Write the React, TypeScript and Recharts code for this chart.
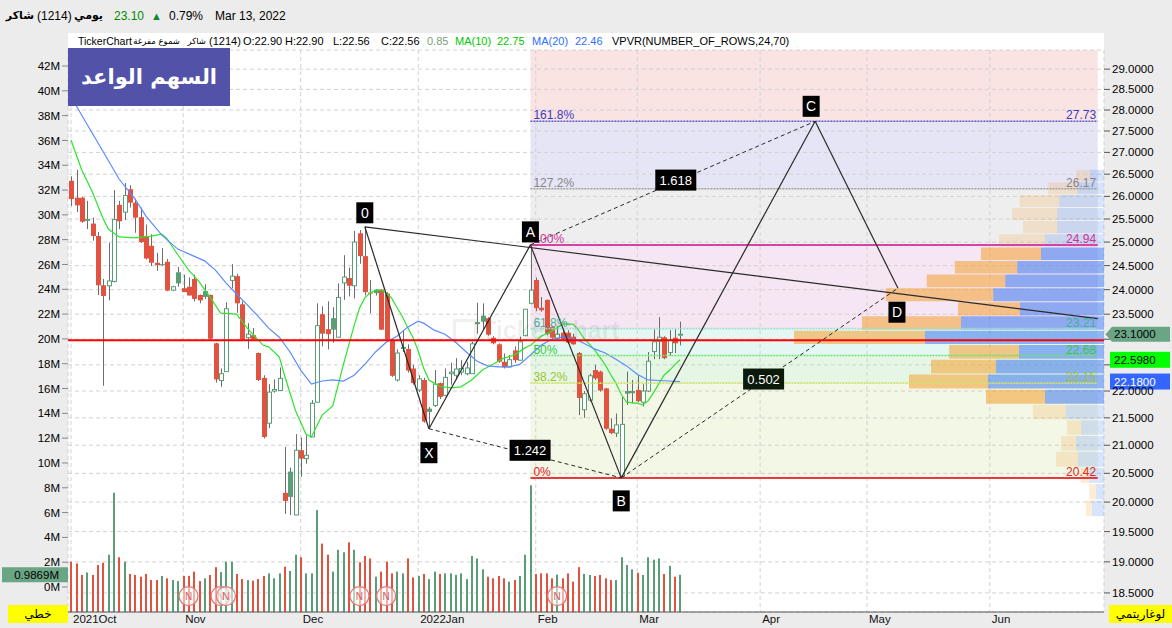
import React from "react";
import {
  ComposedChart,
  Bar,
  Line,
  XAxis,
  YAxis,
  CartesianGrid,
  ReferenceArea,
  ReferenceLine,
  ReferenceDot,
} from "recharts";

// شاكر (1214) daily candles, 3 Oct 2021 .. 13 Mar 2022 (115 sessions)
const opens = [
  26.35, 25.97, 25.97, 25.5, 25.4, 25.13, 24.09, 24.08, 24.17, 25.81,
  25.65, 26.16, 25.86, 25.54, 25.13, 24.92, 24.56, 24.53, 24.58, 23.99,
  24.36, 24.03, 24.06, 24.22, 23.89, 23.97, 23.89, 22.92, 22.2, 22.37,
  24.19, 24.28, 23.7, 23.03, 23.08, 22.73, 22.25, 21.4, 22.0, 22.01,
  20.16, 20.53, 19.78, 20.91, 20.76, 21.15, 21.79, 23.5, 23.2, 23.42,
  23.04, 24.14, 24.24, 24.08, 25.19, 24.7, 23.94, 24.0, 24.0, 23.92,
  22.99, 22.21, 22.82, 22.81, 22.43, 22.02, 22.21, 21.67, 21.73, 22.15,
  21.92, 22.33, 22.3, 22.36, 22.33, 22.33, 23.31, 23.47, 23.42, 23.03,
  22.9, 22.56, 22.46, 22.78, 22.59, 23.07, 23.72, 24.2, 23.63, 23.79,
  23.24, 23.02, 23.13, 23.13, 23.05, 22.73, 21.65, 21.83, 22.4, 22.37,
  22.05, 21.3, 21.22, 20.45, 22.0, 22.0, 22.02, 21.79, 22.0, 22.76,
  22.96, 23.04, 22.74, 23.03, 23.08,
];
const highs = [
  26.45, 26.6, 25.99, 25.9, 25.53, 25.22, 24.22, 24.99, 26.14, 25.9,
  26.3, 26.25, 25.95, 25.75, 25.38, 25.17, 24.77, 24.87, 24.64, 24.08,
  24.47, 24.31, 24.25, 24.31, 23.9, 24.11, 23.9, 22.93, 22.43, 23.74,
  24.53, 24.33, 23.76, 23.32, 23.22, 22.74, 22.3, 22.13, 22.22, 22.45,
  20.97, 20.6, 21.2, 21.14, 21.18, 21.83, 23.72, 23.66, 23.76, 23.64,
  24.13, 24.72, 24.46, 25.24, 25.26, 25.33, 24.2, 24.01, 24.01, 23.95,
  23.0, 22.8, 23.18, 22.9, 22.5, 22.3, 22.25, 21.7, 22.4, 22.16,
  22.43, 22.54, 22.63, 22.59, 22.56, 22.95, 23.73, 23.72, 23.44, 23.06,
  22.92, 22.72, 22.69, 22.86, 23.05, 23.6, 24.94, 24.25, 23.85, 23.8,
  23.26, 23.26, 23.2, 23.18, 23.11, 22.75, 22.0, 22.33, 22.5, 22.39,
  22.06, 21.49, 21.58, 21.9, 22.37, 22.21, 22.3, 22.13, 22.75, 23.2,
  23.44, 23.06, 23.18, 23.2, 23.35,
];
const lows = [
  25.79, 25.65, 25.42, 25.28, 25.03, 23.89, 22.1, 23.78, 24.15, 25.28,
  25.48, 25.75, 25.2, 24.98, 24.63, 24.49, 24.39, 24.49, 23.97, 23.97,
  24.06, 23.95, 23.88, 23.76, 23.72, 23.81, 22.98, 22.16, 22.08, 22.37,
  24.03, 23.53, 22.98, 22.81, 22.99, 22.19, 21.12, 21.31, 21.97, 22.0,
  19.8, 19.78, 19.78, 20.44, 20.67, 21.15, 21.79, 22.86, 22.8, 22.93,
  23.04, 23.79, 23.86, 23.82, 24.54, 23.88, 23.52, 23.88, 23.18, 22.98,
  22.27, 22.18, 22.75, 22.35, 22.12, 21.98, 21.41, 21.3, 21.7, 21.85,
  21.9, 22.12, 22.21, 22.3, 22.3, 22.33, 23.11, 23.18, 23.07, 22.9,
  22.54, 22.43, 22.45, 22.54, 22.59, 23.06, 23.7, 23.56, 23.55, 23.08,
  23.01, 22.98, 22.96, 22.91, 22.89, 21.55, 21.5, 21.8, 22.21, 21.99,
  21.28, 21.2, 21.15, 20.42, 21.74, 21.77, 21.79, 21.71, 21.98, 22.61,
  22.61, 22.61, 22.68, 22.73, 22.88,
];
const closes = [
  25.94, 25.8, 25.44, 25.46, 25.13, 24.09, 23.87, 24.18, 25.49, 25.45,
  26.02, 25.86, 25.53, 25.0, 24.65, 24.56, 24.51, 24.52, 23.98, 24.06,
  24.13, 23.95, 23.88, 23.81, 23.78, 23.85, 23.01, 22.22, 22.33, 23.61,
  24.28, 23.72, 23.0, 23.1, 23.0, 22.21, 21.15, 21.98, 22.03, 22.24,
  20.02, 20.09, 20.91, 20.76, 20.82, 21.77, 23.27, 23.11, 23.1, 23.19,
  23.84, 24.26, 24.08, 25.0, 24.7, 23.95, 23.92, 23.93, 23.19, 23.0,
  22.29, 22.73, 22.84, 22.39, 22.15, 22.23, 21.43, 21.61, 22.13, 21.89,
  22.26, 22.36, 22.42, 22.43, 22.44, 22.91, 23.33, 23.35, 23.09, 22.92,
  22.56, 22.45, 22.6, 22.59, 22.95, 23.6, 23.99, 23.62, 23.58, 23.11,
  23.03, 23.1, 23.0, 22.93, 22.9, 21.87, 21.95, 22.29, 22.24, 22.01,
  21.3, 21.22, 21.37, 21.38, 21.95, 21.96, 21.81, 22.0, 22.57, 22.95,
  23.04, 22.63, 22.98, 22.92, 23.1,
];
// volume, millions of shares
const volumes = [
  2.04, 1.9, 0.97, 1.17, 0.97, 1.77, 1.96, 2.6, 7.6, 2.4,
  2.04, 1.05, 0.97, 0.83, 1.05, 0.56, 0.56, 0.89, 0.7, 0.56,
  0.48, 0.89, 0.9, 1.24, 0.48, 0.7, 0.97, 1.6, 1.2, 2.04,
  2.04, 1.05, 0.64, 0.56, 0.51, 0.64, 0.89, 1.1, 0.7, 1.1,
  1.64, 1.29, 2.6, 2.4, 1.1, 1.1, 6.2, 3.5, 2.6, 1.24,
  3.0, 2.8, 3.6, 3.0, 2.0, 2.5, 2.3, 0.83, 1.24, 2.04,
  1.1, 1.24, 1.1, 2.3, 0.77, 0.89, 1.05, 0.64, 1.24, 1.05,
  1.1, 1.1, 0.97, 1.1, 0.64, 2.5, 2.3, 1.42, 0.83, 0.7,
  0.89, 0.7, 0.43, 0.56, 0.89, 2.6, 8.2, 1.05, 1.1, 1.1,
  0.7, 1.0, 0.7, 1.1, 0.43, 1.6, 1.05, 0.97, 0.89, 0.97,
  0.7, 0.56, 0.56, 2.4, 1.77, 1.42, 1.15, 0.97, 2.4, 2.2,
  2.3, 1.05, 1.7, 0.83, 0.9869,
];

// moving averages: [session index, price]
const ma10Points: [number, number][] = [
  [0, 27.29], [2, 26.6], [4, 26.1], [6, 25.51], [7, 25.28], [9, 25.11], [12, 25.09],
  [15, 25.13], [17, 25.17], [18, 25.07], [20, 24.73], [22, 24.41], [24, 24.16],
  [26, 23.85], [28, 23.52], [31, 23.5], [33, 23.22], [34, 23.1], [36, 22.88],
  [37, 22.85], [39, 22.65], [40, 22.29], [42, 21.64], [44, 21.2], [45, 21.15],
  [47, 21.55], [49, 21.72], [51, 22.51], [52, 22.89], [53, 23.27], [54, 23.62],
  [55, 23.83], [56, 23.93], [57, 23.99], [58, 23.99], [59, 23.93], [60, 23.83],
  [61, 23.64], [62, 23.46], [63, 23.24], [64, 23.04], [65, 22.77], [66, 22.44],
  [67, 22.21], [68, 22.15], [69, 22.09], [71, 22.06], [73, 22.08], [75, 22.21],
  [77, 22.4], [79, 22.51], [81, 22.63], [83, 22.69], [85, 22.83], [86, 22.88],
  [88, 23.06], [90, 23.16], [92, 23.3], [94, 23.3], [95, 23.18], [96, 23.02],
  [98, 22.79], [99, 22.65], [100, 22.5], [101, 22.32], [102, 22.15], [103, 21.94],
  [104, 21.79], [106, 21.77], [107, 21.74], [108, 21.81], [109, 21.96], [110, 22.13],
  [111, 22.3], [112, 22.39], [113, 22.5], [114, 22.598],
];
const ma20Points: [number, number][] = [
  [0, 28.32], [3, 27.66], [6, 27.02], [9, 26.39], [12, 25.94], [14, 25.57], [17, 25.15],
  [20, 24.85], [23, 24.7], [25, 24.6], [27, 24.41], [29, 24.14], [31, 23.91],
  [33, 23.69], [35, 23.46], [37, 23.22], [39, 23.04], [41, 22.75], [43, 22.4],
  [45, 22.13], [47, 22.19], [49, 22.21], [51, 22.19], [53, 22.3], [55, 22.51],
  [57, 22.75], [59, 22.94], [61, 23.06], [63, 23.24], [65, 23.36], [66, 23.32],
  [68, 23.18], [70, 23.1], [72, 22.94], [74, 22.75], [76, 22.57], [78, 22.48],
  [80, 22.46], [82, 22.46], [84, 22.51], [86, 22.69], [88, 22.88], [90, 23.0],
  [92, 23.04], [94, 23.02], [96, 22.92], [98, 22.81], [100, 22.73], [102, 22.61],
  [104, 22.48], [106, 22.32], [108, 22.21], [110, 22.2], [112, 22.19], [114, 22.18],
];

// x axis: first session of each month (incl. empty future months)
const monthTicks = [0, 21, 43, 65, 87, 106, 129, 149, 172];
const monthLabels = ["2021Oct", "Nov", "Dec", "2022Jan", "Feb", "Mar", "Apr", "May", "Jun"];
const priceTicks = [
  18.5, 19, 19.5, 20, 20.5, 21, 21.5, 22, 22.5, 23, 23.5, 24, 24.5, 25, 25.5, 26, 26.5, 27,
  27.5, 28, 28.5, 29,
];
// tick labels that sit under the price badges
const coveredTicks = [22.5, 23];
const volTicks = [0, 2, 4, 6, 8, 10, 12, 14, 16, 18, 20, 22, 24, 26, 28, 30, 32, 34, 36, 38, 40, 42];

// fibonacci retracement A -> B
const fibNames = ["0%", "38.2%", "50%", "61.8%", "100%", "127.2%", "161.8%"];
const fibPrices = [20.42, 22.15, 22.68, 23.21, 24.94, 26.17, 27.73];

// harmonic pattern points
const patternNames = ["0", "X", "A", "B", "C", "D"];
const patternIdx = [55, 67, 86, 103, 139.3, 154.8];
const patternPrices = [25.33, 21.3, 24.94, 20.42, 27.73, 24.03];
const ratioNames = ["1.242", "1.618", "0.502"];
const trendEnd = { idx: 192.2, price: 23.41 };

// volume profile (24 rows, bottom to top), 100k shares
const vpBuy = [3, 3.4, 4.2, 11, 7.5, 7, 16.4, 29.5, 39.5, 32.5, 34.9, 65.5, 49.5, 31, 53.7, 39.2, 31.2, 30, 23, 17, 22.5, 19.7, 14.7, 7];
const vpSell = [6, 4, 7.4, 13, 14, 11.5, 19.2, 29.5, 58, 54, 42.5, 89.5, 71.5, 42, 55.4, 49.4, 43.4, 31.5, 29.5, 23.4, 23.4, 22.4, 13.2, 7];
const VP_LOW = 19.76;
const VP_HIGH = 26.62;
const VA_ROWS = [7, 17];

const newsIdx = [22, 28, 29, 54, 59, 91];
const hLinePrice = 22.98;

// ---- layout / style ----
const X_DOMAIN: [number, number] = [-0.56, 193.37];
const PRICE_DOMAIN: [number, number] = [18.2, 29.48];
const VOL_DOMAIN: [number, number] = [-2.015, 43.29];
const VP_UNITS_PER_SLOT = 2.671;
const FONT = '"Liberation Sans", "DejaVu Sans", Arial, sans-serif';
const AR_FONT = '"DejaVu Sans", sans-serif';
const RED = "#e2533f";
const GREEN = "#5a9e78";
const WICK = "#6c6c6c";

const fibLineColors = ["#e83a3a", "#d2e070", "#6ee06e", "#9edfd0", "#d444a4", "#a0a0a0", "#5a5ac8"];
const fibTextColors = ["#e02828", "#9cc430", "#38c838", "#3cb48e", "#d0309a", "#858585", "#3a3ac4"];
const fibDash = [undefined, "2 1", "2 1", "2 1", undefined, "2 1", "2 1"];
const fibZoneColors = ["#f3f7e5", "#e6f6e4", "#e5f7f2", "#f6e5f3", "#eeeeee", "#e5e5f6", "#f9e3e3"];
const tagOffsets = [[0, -14], [0, 24], [0, -13], [0, 23], [-4, -15], [-1, 24]];
const ratioOffsets = [[5, -3], [3, -3], [4, -4]];

const ma10Map = new Map(ma10Points);
const ma20Map = new Map(ma20Points);
const data = opens.map((open, i) => ({
  i,
  open,
  high: highs[i],
  low: lows[i],
  close: closes[i],
  vol: volumes[i],
  up: i === 0 ? closes[i] >= open : closes[i] >= closes[i - 1],
  hollow: closes[i] >= open,
  ma10: ma10Map.get(i) ?? null,
  ma20: ma20Map.get(i) ?? null,
}));

const Candle = (p: any) => {
  const { x, y, width, height, payload } = p;
  if (!payload || height == null) return null;
  const top = Math.min(y, y + height);
  const h = Math.abs(height);
  const lh = Math.log(payload.high);
  const ll = Math.log(payload.low);
  const toY = (v: number) => (lh === ll ? top : top + (h * (lh - Math.log(v))) / (lh - ll));
  const cx = Math.round(x + width / 2) + 0.5;
  const yo = toY(payload.open);
  const yc = toY(payload.close);
  const bt = Math.min(yo, yc);
  const bh = Math.max(1, Math.abs(yc - yo));
  const color = payload.up ? GREEN : RED;
  return (
    <g>
      <line x1={cx} x2={cx} y1={top} y2={top + h} stroke={WICK} strokeWidth={1} />
      {payload.hollow ? (
        <rect x={cx - 2} y={bt} width={4} height={bh} fill="#fff" stroke={color} strokeWidth={1} />
      ) : (
        <rect x={cx - 2.5} y={bt} width={5} height={bh} fill={color} />
      )}
    </g>
  );
};

const VolBar = (p: any) => {
  const { x, y, width, height, payload } = p;
  if (!payload) return null;
  const cx = Math.round(x + width / 2);
  return <rect x={cx - 1} y={Math.min(y, y + height)} width={2} height={Math.abs(height)} fill={payload.up ? GREEN : RED} />;
};

const MonthTick = (p: any) => {
  const k = monthTicks.indexOf(p.payload.value);
  return (
    <text x={p.x + 2} y={p.y + 9} fontSize={11.5} fontFamily={FONT} fill="#111" textAnchor="start">
      {monthLabels[k]}
    </text>
  );
};

const tag = (text: string, dx: number, dy: number, w: number, fill: string, fs: number) => (p: any) => (
  <g>
    <rect x={p.cx + dx - w / 2} y={p.cy + dy - 10.5} width={w} height={21} fill={fill} />
    <text x={p.cx + dx} y={p.cy + dy + fs * 0.36} textAnchor="middle" fill="#fff" fontSize={fs} fontFamily={FONT}>
      {text}
    </text>
  </g>
);

const fibText = (text: string, color: string, anchor: "start" | "end") => (p: any) => (
  <text x={anchor === "start" ? p.cx + 3 : p.cx} y={p.cy - 2} textAnchor={anchor} fill={color} fontSize={12} fontFamily={FONT}>
    {text}
  </text>
);

const priceBadge = (text: string, fill: string, color: string, arrow: boolean) => (p: any) => (
  <g>
    {arrow ? (
      <polygon
        points={`${p.cx + 1.5},${p.cy} ${p.cx + 8},${p.cy - 7.5} ${p.cx + 66},${p.cy - 7.5} ${p.cx + 66},${p.cy + 7.5} ${p.cx + 8},${p.cy + 7.5}`}
        fill={fill}
      />
    ) : (
      <rect x={p.cx + 6} y={p.cy - 8} width={60} height={16} fill={fill} />
    )}
    <text x={p.cx + 10} y={p.cy + 4} fill={color} fontSize={11.5} fontFamily={FONT}>
      {text}
    </text>
  </g>
);

const volBadge = (p: any) => (
  <g>
    <rect x={p.cx - 66} y={p.cy - 7.5} width={66} height={15} fill="#6aa585" />
    <text x={p.cx - 9} y={p.cy + 4} textAnchor="end" fill="#000" fontSize={11.5} fontFamily={FONT}>
      {volumes[volumes.length - 1].toFixed(4)}M
    </text>
  </g>
);

const newsMark = (p: any) => (
  <g>
    <circle cx={p.cx} cy={p.cy} r={9.5} fill="rgba(255,255,255,0.55)" stroke="#e27a7a" strokeWidth={1.3} />
    <text x={p.cx} y={p.cy + 3.5} textAnchor="middle" fontSize={10} fill="#d25a5a" fontFamily={FONT}>
      N
    </text>
  </g>
);

const isArabic = (t: string) => /[\u0600-\u06ff]/.test(t);

// header pieces: [left or right edge, text, colour, bold, anchored on right edge]
const headerItems: [number, string, string, boolean, boolean][] = [
  [34, "شاكر", "#000", true, true],
  [37, "(1214)", "#000", false, false],
  [103, "يومي", "#000", true, true],
  [114, "23.10", "#008a00", false, false],
  [169, "0.79%", "#000", false, false],
  [215, "Mar 13, 2022", "#000", false, false],
];
// info line pieces: [left or right edge, text, colour, anchored on right edge]
const infoItems: [number, string, string, boolean][] = [
  [78, "TickerChart", "#000", false],
  [180, "شموع مفرغة", "#000", true],
  [206, "شاكر", "#000", true],
  [209, "(1214)", "#000", false],
  [243, "O:22.90", "#000", false],
  [285, "H:22.90", "#000", false],
  [333, "L:22.56", "#000", false],
  [381, "C:22.56", "#000", false],
  [427, "0.85", "#7a9e7a", false],
  [455, "MA(10)", "#00c800", false],
  [497, "22.75", "#00c800", false],
  [532, "MA(20)", "#2f6fff", false],
  [575, "22.46", "#2f6fff", false],
  [612, "VPVR(NUMBER_OF_ROWS,24,70)", "#000", false],
];

const App = () => {
  const fibX1 = patternIdx[2];
  const fibX2 = trendEnd.idx;
  const fibTop = [...fibPrices.slice(1), PRICE_DOMAIN[1]];
  const vpStep = (VP_HIGH - VP_LOW) / vpBuy.length;
  const pt = (k: number) => ({ x: patternIdx[k], y: patternPrices[k] });
  const solidLegs = [[0, 1], [1, 2], [2, 3], [3, 4], [4, 5]];
  const dashedLegs = [[1, 3], [2, 4], [3, 5]];
  const lastClose = closes[closes.length - 1];
  const lastMa10 = ma10Points[ma10Points.length - 1][1];
  const lastMa20 = ma20Points[ma20Points.length - 1][1];

  return (
    <div style={{ position: "fixed", left: 0, top: 0, width: 1172, height: 628, background: "#ececec", overflow: "hidden", fontFamily: FONT }}>
      <div style={{ position: "absolute", left: 68, top: 33, width: 1036, height: 579, background: "#fff" }} />
      <div style={{ position: "absolute", left: 0, top: 0 }}>
        <ComposedChart width={1172} height={628} data={data} margin={{ top: 50, right: 0, bottom: 0, left: 0 }}>
          <XAxis
            dataKey="i"
            type="number"
            domain={X_DOMAIN}
            allowDataOverflow
            ticks={monthTicks}
            interval={0}
            height={16}
            tickSize={0}
            axisLine={{ stroke: "#555" }}
            tick={<MonthTick />}
          />
          <XAxis xAxisId="vx" dataKey="i" type="number" domain={X_DOMAIN} allowDataOverflow hide />
          <YAxis
            orientation="right"
            scale="log"
            domain={PRICE_DOMAIN}
            allowDataOverflow
            ticks={priceTicks}
            interval={0}
            width={68}
            axisLine={false}
            tickSize={6}
            tickLine={{ stroke: "#555" }}
            tick={{ fill: "#000", fontSize: 11.5, fontFamily: FONT }}
            tickFormatter={(v: number) => (coveredTicks.includes(v) ? "" : v.toFixed(4))}
          />
          <YAxis
            yAxisId="vol"
            orientation="left"
            domain={VOL_DOMAIN}
            allowDataOverflow
            ticks={volTicks}
            interval={0}
            width={68}
            axisLine={false}
            tickSize={6}
            tickLine={{ stroke: "#888" }}
            tick={{ fill: "#000", fontSize: 11.5, fontFamily: FONT }}
            tickFormatter={(v: number) => `${v}M`}
          />

          {fibPrices.map((p, k) => (
            <ReferenceArea
              key={`fz${k}`}
              x1={fibX1}
              x2={fibX2}
              y1={p}
              y2={fibTop[k]}
              fill={fibZoneColors[k]}
              fillOpacity={1}
              stroke="none"
              ifOverflow="hidden"
              zIndex={-110}
            />
          ))}

          <CartesianGrid strokeDasharray="4 3" stroke="#d2d2d2" />

          {vpBuy.map((b, k) => {
            const lo = VP_LOW + k * vpStep;
            const hi = lo + vpStep - 0.02;
            const inVA = k >= VA_ROWS[0] && k <= VA_ROWS[1];
            const sEdge = X_DOMAIN[1] - vpSell[k] / VP_UNITS_PER_SLOT;
            const bEdge = sEdge - b / VP_UNITS_PER_SLOT;
            return (
              <React.Fragment key={`vp${k}`}>
                <ReferenceArea x1={bEdge} x2={sEdge} y1={lo} y2={hi} fill="#f4a030" fillOpacity={inVA ? 0.55 : 0.2} stroke="none" ifOverflow="hidden" />
                <ReferenceArea x1={sEdge} x2={X_DOMAIN[1]} y1={lo} y2={hi} fill="#3a78ee" fillOpacity={inVA ? 0.55 : 0.2} stroke="none" ifOverflow="hidden" />
              </React.Fragment>
            );
          })}

          <Bar
            xAxisId="vx"
            yAxisId="vol"
            dataKey={(d: any) => [VOL_DOMAIN[0], d.vol]}
            barSize={2}
            shape={VolBar}
            isAnimationActive={false}
          />
          <Bar dataKey={(d: any) => [d.low, d.high]} barSize={4} shape={Candle} isAnimationActive={false} />
          <Line dataKey="ma10" stroke="#2ee42e" strokeWidth={1.2} dot={false} connectNulls isAnimationActive={false} />
          <Line dataKey="ma20" stroke="#5b8cff" strokeWidth={1.2} dot={false} connectNulls isAnimationActive={false} />

          <ReferenceLine y={hLinePrice} stroke="#ff0000" strokeWidth={2} />

          {fibPrices.map((p, k) => (
            <ReferenceLine
              key={`fl${k}`}
              segment={[{ x: fibX1, y: p }, { x: fibX2, y: p }]}
              stroke={fibLineColors[k]}
              strokeWidth={fibDash[k] ? 1.6 : 2}
              strokeDasharray={fibDash[k]}
            />
          ))}

          {solidLegs.map(([a, b]) => (
            <ReferenceLine key={`s${a}${b}`} segment={[pt(a), pt(b)]} stroke="#2a2a2a" strokeWidth={1.2} />
          ))}
          <ReferenceLine segment={[pt(0), { x: trendEnd.idx, y: trendEnd.price }]} stroke="#2a2a2a" strokeWidth={1.2} />
          {dashedLegs.map(([a, b]) => (
            <ReferenceLine key={`d${a}${b}`} segment={[pt(a), pt(b)]} stroke="#2a2a2a" strokeWidth={1} strokeDasharray="4 3" />
          ))}

          {fibPrices.map((p, k) => (
            <ReferenceDot key={`ftl${k}`} x={fibX1} y={p} r={0} shape={fibText(fibNames[k], fibTextColors[k], "start")} />
          ))}
          {fibPrices.map((p, k) => (
            <ReferenceDot key={`ftr${k}`} x={fibX2 - 0.3} y={p} r={0} shape={fibText(p.toFixed(2), fibTextColors[k], "end")} />
          ))}

          {dashedLegs.map(([a, b], k) => (
            <ReferenceDot
              key={`r${k}`}
              x={(patternIdx[a] + patternIdx[b]) / 2}
              y={Math.sqrt(patternPrices[a] * patternPrices[b])}
              r={0}
              shape={tag(ratioNames[k], ratioOffsets[k][0], ratioOffsets[k][1], 41, k === 2 ? "#0b1a0b" : "#000", 13)}
            />
          ))}
          {patternNames.map((n, k) => (
            <ReferenceDot
              key={`t${n}`}
              x={patternIdx[k]}
              y={patternPrices[k]}
              r={0}
              shape={tag(n, tagOffsets[k][0], tagOffsets[k][1], 17, "#000", 14)}
            />
          ))}

          {newsIdx.map((n) => (
            <ReferenceDot key={`n${n}`} yAxisId="vol" x={n} y={-0.73} r={0} shape={newsMark} />
          ))}

          <ReferenceDot x={X_DOMAIN[1]} y={lastClose} r={0} shape={priceBadge(lastClose.toFixed(4), "#6aa585", "#000", true)} />
          <ReferenceDot x={X_DOMAIN[1]} y={lastMa10} r={0} shape={priceBadge(lastMa10.toFixed(4), "#00ff00", "#000", false)} />
          <ReferenceDot x={X_DOMAIN[1]} y={lastMa20} r={0} shape={priceBadge(lastMa20.toFixed(4), "#3366ff", "#fff", false)} />
          <ReferenceDot yAxisId="vol" x={X_DOMAIN[0]} y={volumes[volumes.length - 1]} r={0} shape={volBadge} />
        </ComposedChart>
      </div>

      {headerItems.map(([x, t, c, b, right]) => (
        <div
          key={`h${x}`}
          style={{
            position: "absolute",
            ...(right ? { right: 1172 - x } : { left: x }),
            top: 9,
            fontSize: isArabic(t) ? 11 : 12,
            lineHeight: "14px",
            color: c,
            fontWeight: b ? 700 : 400,
            whiteSpace: "nowrap",
            fontFamily: isArabic(t) ? AR_FONT : FONT,
          }}
        >
          {t}
        </div>
      ))}
      <div style={{ position: "absolute", left: 151, top: 9, fontSize: 11, lineHeight: "14px", color: "#0a8a2a" }}>▲</div>
      {infoItems.map(([x, t, c, right]) => (
        <div
          key={`i${x}`}
          style={{
            position: "absolute",
            ...(right ? { right: 1172 - x } : { left: x }),
            top: 35,
            fontSize: isArabic(t) ? 8.5 : x === 78 ? 10.5 : 11,
            lineHeight: "13px",
            color: c,
            whiteSpace: "nowrap",
            fontFamily: isArabic(t) ? AR_FONT : FONT,
          }}
        >
          {t}
        </div>
      ))}

      <div style={{ position: "absolute", left: 453, top: 316, display: "flex", alignItems: "center", color: "rgba(0,0,0,0.07)", fontSize: 25, fontWeight: 700, pointerEvents: "none" }}>
        <div style={{ width: 18, height: 18, border: "3px solid rgba(0,0,0,0.06)", marginRight: 4 }} />
        TickerChart
      </div>

      <div
        style={{ position: "absolute", left: 68, top: 48, width: 162, height: 58, background: "#5252a8", color: "#fff", fontFamily: AR_FONT, fontWeight: 700, fontSize: 21, display: "flex", alignItems: "center", justifyContent: "center" }}
      >
        السهم الواعد
      </div>

      <div style={{ position: "absolute", left: 8, top: 605, width: 60, height: 18, background: "#ffff00", fontFamily: AR_FONT, fontSize: 12, display: "flex", alignItems: "center", justifyContent: "center" }}>
        خطي
      </div>
      <div style={{ position: "absolute", left: 1109, top: 605, width: 63, height: 18, background: "#ffff00", fontFamily: AR_FONT, fontSize: 12, display: "flex", alignItems: "center", justifyContent: "center" }}>
        لوغاريتمي
      </div>
    </div>
  );
};

export default App;
